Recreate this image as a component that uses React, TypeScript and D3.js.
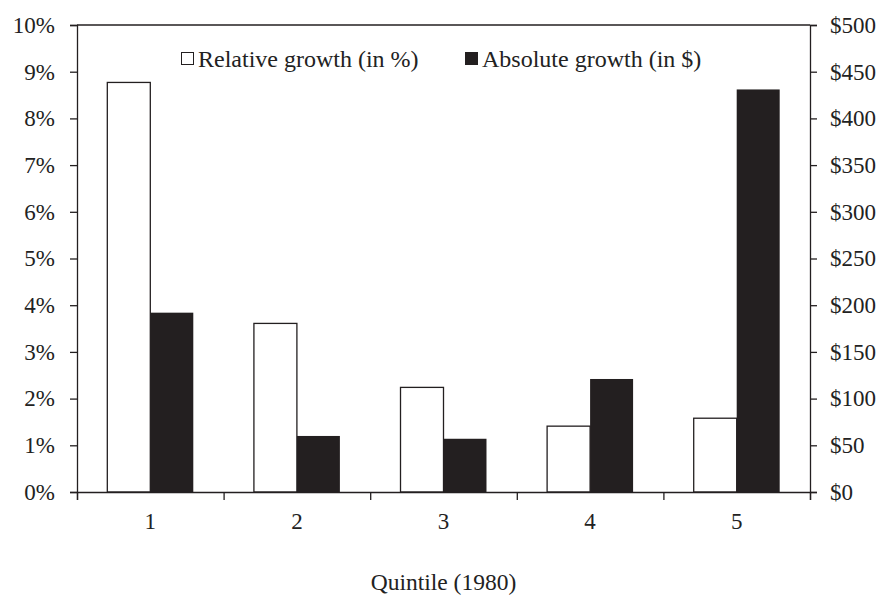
import { useEffect, useRef } from "react";
import * as d3 from "d3";

const WIDTH = 883;
const HEIGHT = 597;
const MARGINS = { LEFT: 77, RIGHT: 73, TOP: 25, BOTTOM: 105 };

const quintiles = ["1", "2", "3", "4", "5"];
const relativeGrowth = [8.77, 3.61, 2.24, 1.41, 1.58]; // %
const absoluteGrowth = [192, 60, 57, 121, 431]; // $
const leftTicks = [0, 1, 2, 3, 4, 5, 6, 7, 8, 9, 10];
const rightTicks = [0, 50, 100, 150, 200, 250, 300, 350, 400, 450, 500];

const FONT = "'Liberation Serif', 'Times New Roman', serif";
const DARK = "#231f20";
const TEXT = "#222";

const App = () => {
  const ref = useRef<SVGSVGElement | null>(null);

  useEffect(() => {
    const svg = d3.select(ref.current);
    svg.selectAll("*").remove();

    const x0 = MARGINS.LEFT;
    const x1 = WIDTH - MARGINS.RIGHT;
    const y0 = HEIGHT - MARGINS.BOTTOM;
    const y1 = MARGINS.TOP;

    const xScale = d3.scaleBand().domain(quintiles).range([x0, x1]);
    const inner = d3
      .scaleBand()
      .domain(["rel", "abs"])
      .range([0, xScale.bandwidth()])
      .paddingOuter(0.705)
      .paddingInner(0);
    const yLeft = d3.scaleLinear().domain([0, 10]).range([y0, y1]);
    const yRight = d3.scaleLinear().domain([0, 500]).range([y0, y1]);

    const g = svg.append("g");

    // bars
    quintiles.forEach((q, i) => {
      const bx = xScale(q)!;
      g.append("rect")
        .attr("x", bx + inner("rel")!)
        .attr("y", yLeft(relativeGrowth[i]))
        .attr("width", inner.bandwidth())
        .attr("height", y0 - yLeft(relativeGrowth[i]))
        .attr("fill", "#fff")
        .attr("stroke", DARK)
        .attr("stroke-width", 1.3);
      g.append("rect")
        .attr("x", bx + inner("abs")!)
        .attr("y", yRight(absoluteGrowth[i]))
        .attr("width", inner.bandwidth())
        .attr("height", y0 - yRight(absoluteGrowth[i]))
        .attr("fill", DARK);
    });

    // top border of plot
    g.append("line")
      .attr("x1", x0).attr("x2", x1)
      .attr("y1", y1).attr("y2", y1)
      .attr("stroke", DARK).attr("stroke-width", 1.3);

    const leftAxis = d3
      .axisLeft(yLeft)
      .tickValues(leftTicks)
      .tickSize(7)
      .tickPadding(15)
      .tickFormat((d) => `${d}%`);
    const rightAxis = d3
      .axisRight(yRight)
      .tickValues(rightTicks)
      .tickSize(7)
      .tickPadding(13)
      .tickFormat((d) => `$${d}`);
    const xAxis = d3
      .axisBottom(d3.scaleLinear().domain([0, 5]).range([x0, x1]))
      .tickValues([0, 1, 2, 3, 4, 5])
      .tickSize(8)
      .tickFormat(() => "");

    const styleAxis = (sel: any) => {
      sel.select(".domain").attr("stroke", DARK).attr("stroke-width", 1.3);
      sel.selectAll(".tick line").attr("stroke", DARK).attr("stroke-width", 1.3);
      sel.selectAll("text")
        .attr("fill", TEXT)
        .style("font-family", FONT)
        .style("font-size", "23px");
    };

    g.append("g").attr("transform", `translate(${x0},0)`).call(leftAxis as any).call(styleAxis);
    g.append("g").attr("transform", `translate(${x1},0)`).call(rightAxis as any).call(styleAxis);
    g.append("g").attr("transform", `translate(0,${y0})`).call(xAxis as any).call(styleAxis);

    // category labels
    g.selectAll(".cat")
      .data(quintiles)
      .join("text")
      .attr("class", "cat")
      .attr("x", (d) => xScale(d)! + xScale.bandwidth() / 2)
      .attr("y", y0 + 37)
      .attr("text-anchor", "middle")
      .attr("fill", TEXT)
      .style("font-family", FONT)
      .style("font-size", "23px")
      .text((d) => d);

    // x axis title
    g.append("text")
      .attr("x", (x0 + x1) / 2)
      .attr("y", 590)
      .attr("text-anchor", "middle")
      .attr("fill", TEXT)
      .style("font-family", FONT)
      .style("font-size", "23.5px")
      .text("Quintile (1980)");

    // legend
    const legend = [
      { label: "Relative growth (in %)", fill: "#fff", x: 181 },
      { label: "Absolute growth (in $)", fill: DARK, x: 465 },
    ];
    legend.forEach((l) => {
      g.append("rect")
        .attr("x", l.x + 0.5)
        .attr("y", 52.5)
        .attr("width", 12)
        .attr("height", 12)
        .attr("fill", l.fill)
        .attr("stroke", DARK)
        .attr("stroke-width", 1);
      g.append("text")
        .attr("x", l.x + 17)
        .attr("y", 67)
        .attr("fill", TEXT)
        .style("font-family", FONT)
        .style("font-size", "24px")
        .text(l.label);
    });
  }, []);

  return (
    <div style={{ position: "absolute", left: 0, top: 0, background: "#fff" }}>
      <svg ref={ref} width={WIDTH} height={HEIGHT} style={{ display: "block" }} />
    </div>
  );
};

export default App;
